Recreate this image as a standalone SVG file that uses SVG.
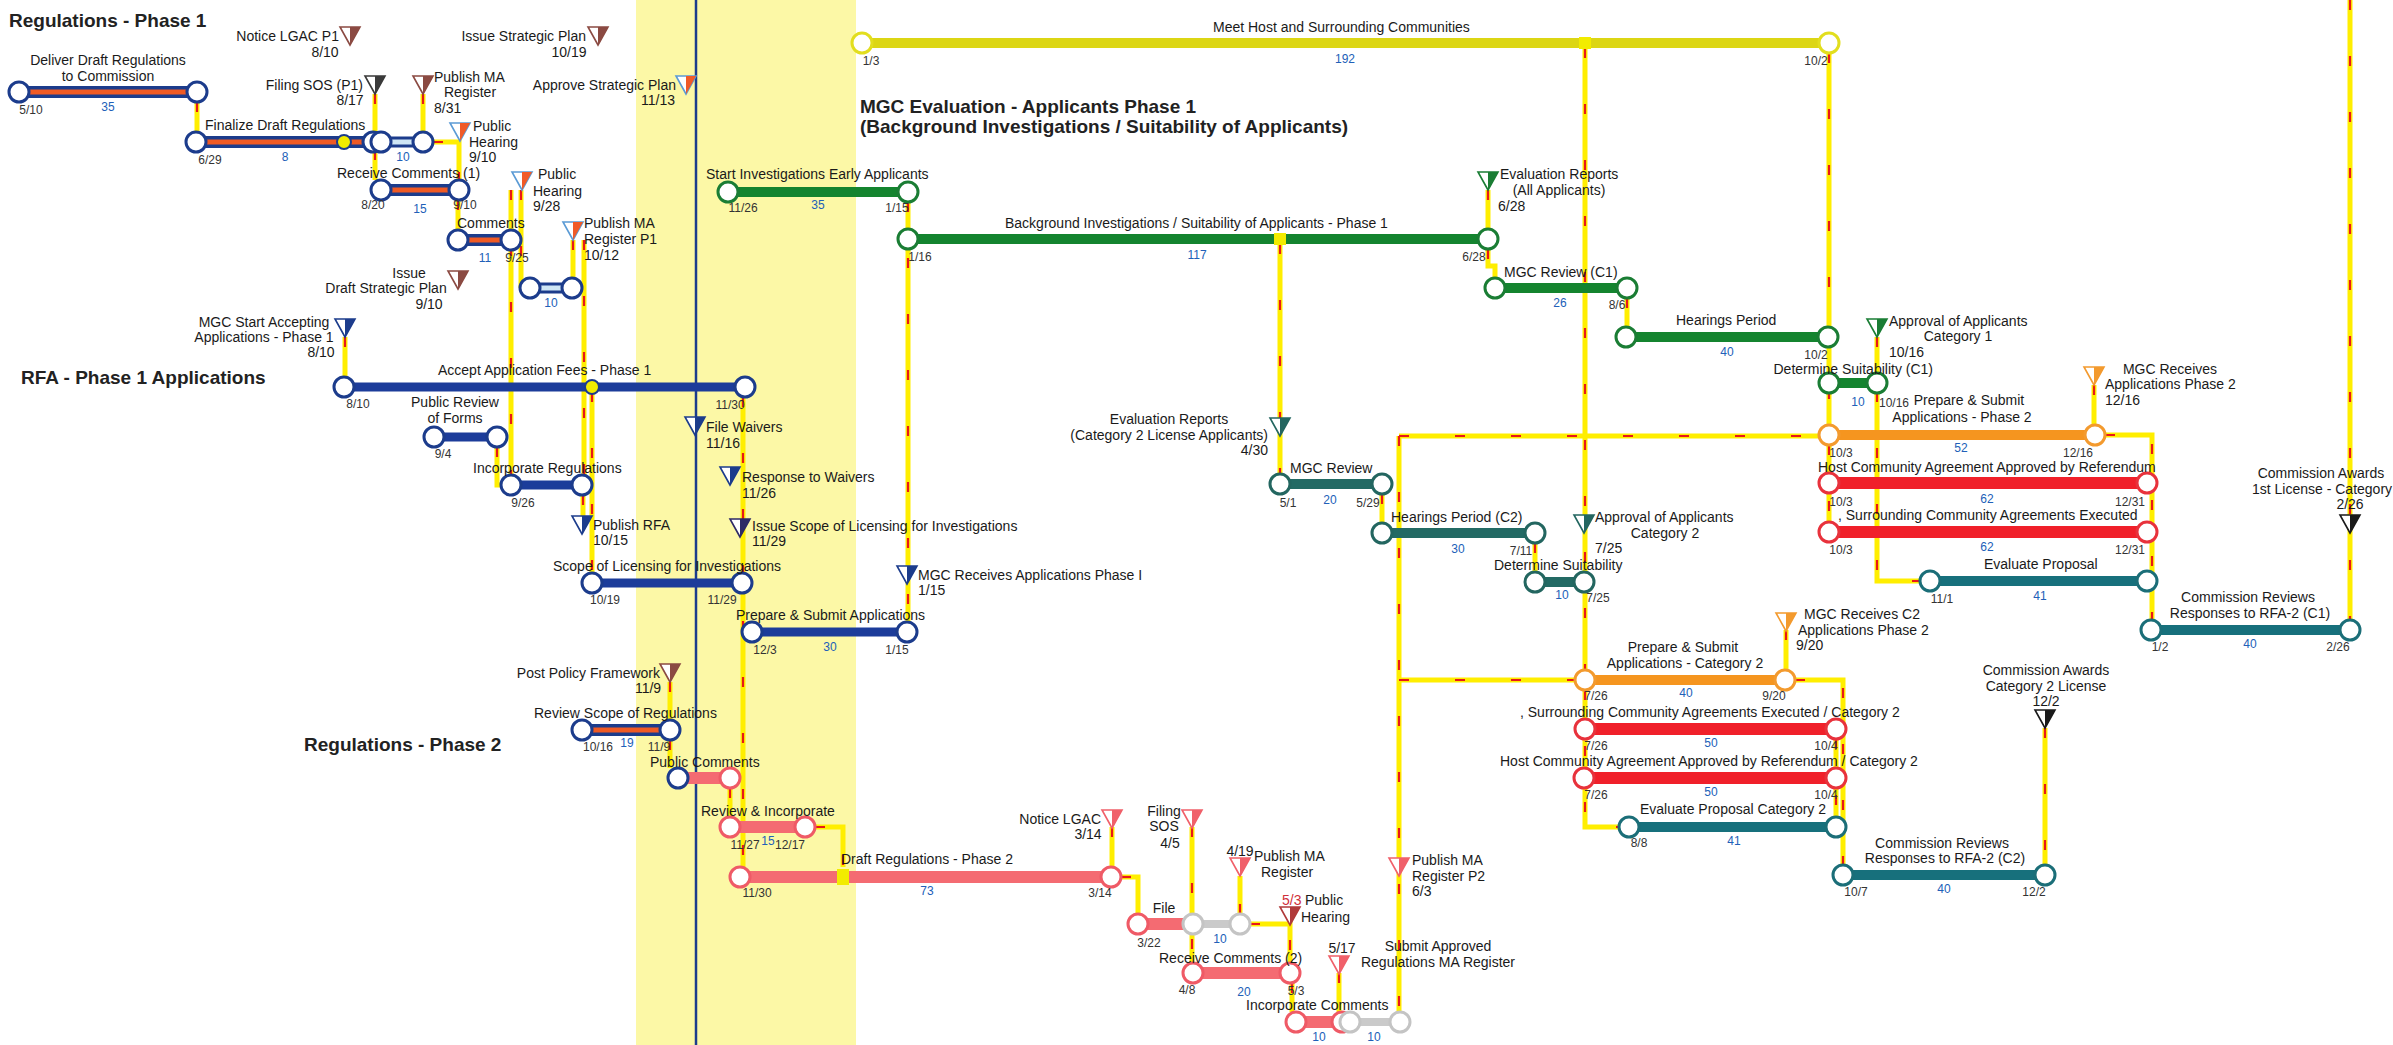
<svg xmlns="http://www.w3.org/2000/svg" width="2393" height="1045" viewBox="0 0 2393 1045">
<style>
text{font-family:"Liberation Sans",Arial,sans-serif;fill:#1a1a1a;font-size:14px}
.t{font-weight:bold;font-size:19px;fill:#222}
.d{font-size:12px;fill:#333}
.n{font-size:12px;fill:#2160b8}
.m{text-anchor:middle}
.e{text-anchor:end}
.red{fill:#d0303a}
circle.nd{fill:#fff;stroke-width:3}
.cN{stroke:#1c3c8c}.cG{stroke:#1a7d34}.cT{stroke:#1b6e78}.cT2{stroke:#236660}.cO{stroke:#f39a2e}.cR{stroke:#e8323c}.cP{stroke:#ef5a66}.cY{stroke:#e2de1e}.cGr{stroke:#c4c4c4}
line{fill:none;stroke-linecap:butt}
.b1{stroke:#1c3c8c;stroke-width:12}.b1i{stroke:#ef5a24;stroke-width:5}
.bL{stroke:#1c3c8c;stroke-width:11}.bLi{stroke:#cfe6f5;stroke-width:5}
.bN{stroke:#1c3c9a;stroke-width:9}
.bG{stroke:#14842f;stroke-width:10}
.bY{stroke:#dcd614;stroke-width:10}
.bO{stroke:#f5951f;stroke-width:10}
.bR{stroke:#f0202a;stroke-width:12}
.bT{stroke:#17707c;stroke-width:10}
.bT2{stroke:#236a64;stroke-width:10}
.bP{stroke:#f46b72;stroke-width:12}
.bGr{stroke:#cacaca;stroke-width:8}
.yd{fill:#f2ec00}
#connectors{fill:none;stroke:#ffee00;stroke-width:5}
#arrows{fill:none;stroke:#e81818;stroke-width:2.2;stroke-dasharray:10 46}
</style>
<defs>
<g id="ms"><polygon points="-10,-9 10,-9 0,9" fill="#fff" stroke="currentColor" stroke-width="1.6"/><polygon points="0,-9 10,-9 0,9" fill="currentColor"/></g>
<g id="msb"><polygon points="-10,-9 10,-9 0,9" fill="#fff" stroke="#5b9bd5" stroke-width="1.6"/><polygon points="0,-9 10,-9 0,9" fill="currentColor"/></g>
</defs>
<rect x="0" y="0" width="2393" height="1045" fill="#fff"/>
<rect x="636" y="0" width="220" height="1045" fill="#fcf8a6"/>
<line x1="696" y1="0" x2="696" y2="1045" stroke="#1c3c8c" stroke-width="2.5"/>

<g id="titles">
<text class="t" x="9" y="27">Regulations - Phase 1</text>
<text class="t" x="860" y="113">MGC Evaluation - Applicants Phase 1</text>
<text class="t" x="860" y="133">(Background Investigations / Suitability of Applicants)</text>
<text class="t" x="21" y="384">RFA - Phase 1 Applications</text>
<text class="t" x="304" y="751">Regulations - Phase 2</text>
</g>

<g id="connectors">
<path id="k1" d="M197 102V132"/><path id="k2" d="M375 94V180"/><path id="k3" d="M423 94V132"/>
<path id="k4" d="M433 142H459V180"/><path id="k5" d="M458 200V230"/><path id="k6" d="M511 190V475"/>
<path id="k7" d="M521 190V288H520"/><path id="k8" d="M573 240V278"/><path id="k9" d="M584 240V475"/>
<path id="k10" d="M583 495V516"/><path id="k11" d="M592 392V573"/><path id="k12" d="M345 337V377"/>
<path id="k13" d="M497 447V485H501"/><path id="k14" d="M743 397V867"/><path id="k15" d="M670 682V720"/>
<path id="k16" d="M670 740V768"/><path id="k17" d="M730 788V817"/><path id="k18" d="M815 827H843V867"/>
<path id="k19" d="M1121 877H1138V914"/><path id="k20" d="M1112 827V867"/><path id="k21" d="M1192 827V963"/>
<path id="k22" d="M1240 914V876"/><path id="k23" d="M1250 924H1290V963"/><path id="k24" d="M1292 983V1012"/>
<path id="k25" d="M1339 973V1012"/><path id="k26" d="M1399 436V1012"/><path id="k27" d="M908 202V622"/>
<path id="k28" d="M1585 48V670"/><path id="k29" d="M1829 53V522"/><path id="k30" d="M1280 244V474"/>
<path id="k31" d="M1488 190V229"/><path id="k32" d="M1488 249V266H1495V278"/><path id="k33" d="M1627 298V327"/>
<path id="k34" d="M1382 494V523"/><path id="k35" d="M1399 436H1819"/><path id="k36" d="M1535 543V572"/>
<path id="k37" d="M1399 680H1575"/><path id="k38" d="M1877 337V372"/><path id="k39" d="M1877 392V581H1920"/>
<path id="k40" d="M2105 435H2152V620"/><path id="k41" d="M2094 385V425"/><path id="k42" d="M2350 0V620"/>
<path id="k43" d="M1795 680H1843V865"/><path id="k44" d="M1786 630V670"/><path id="k45" d="M1585 690V827H1619"/>
<path id="k46" d="M1836 739V817"/><path id="k47" d="M2045 728V865"/>
</g>
<g id="arrows">
<use href="#k1"/><use href="#k2"/><use href="#k3"/><use href="#k4"/><use href="#k5"/><use href="#k6"/><use href="#k7"/><use href="#k8"/><use href="#k9"/><use href="#k10"/>
<use href="#k11"/><use href="#k12"/><use href="#k13"/><use href="#k14"/><use href="#k15"/><use href="#k16"/><use href="#k17"/><use href="#k18"/><use href="#k19"/><use href="#k20"/>
<use href="#k21"/><use href="#k22"/><use href="#k23"/><use href="#k24"/><use href="#k25"/><use href="#k26"/><use href="#k27"/><use href="#k28"/><use href="#k29"/><use href="#k30"/>
<use href="#k31"/><use href="#k32"/><use href="#k33"/><use href="#k34"/><use href="#k35"/><use href="#k36"/><use href="#k37"/><use href="#k38"/><use href="#k39"/><use href="#k40"/>
<use href="#k41"/><use href="#k42"/><use href="#k43"/><use href="#k44"/><use href="#k45"/><use href="#k46"/><use href="#k47"/>
</g>

<!-- Regulations Phase 1 -->
<g id="deliver-draft">
<line class="b1" x1="19" y1="92" x2="197" y2="92"/><line class="b1i" x1="19" y1="92" x2="197" y2="92"/>
<circle class="nd cN" cx="19" cy="92" r="10"/><circle class="nd cN" cx="197" cy="92" r="10"/>
<text class="m" x="108" y="65">Deliver Draft Regulations</text><text class="m" x="108" y="81">to Commission</text>
<text class="d m" x="31" y="114">5/10</text><text class="n m" x="108" y="111">35</text>
</g>
<g id="finalize-draft">
<line class="b1" x1="196" y1="142" x2="381" y2="142"/><line class="b1i" x1="196" y1="142" x2="381" y2="142"/>
<line class="bL" x1="381" y1="142" x2="423" y2="142"/><line class="bLi" x1="381" y1="142" x2="423" y2="142"/>
<circle cx="344" cy="142" r="7" class="yd" stroke="#1c3c8c" stroke-width="2"/>
<circle class="nd cN" cx="196" cy="142" r="10"/><circle class="nd cN" cx="373" cy="142" r="10"/><circle class="nd cN" cx="381" cy="142" r="10"/><circle class="nd cN" cx="423" cy="142" r="10"/>
<text x="205" y="130">Finalize Draft Regulations</text>
<text class="d m" x="210" y="164">6/29</text><text class="n m" x="285" y="161">8</text><text class="n m" x="403" y="161">10</text>
</g>
<g id="receive-comments-1">
<line class="b1" x1="381" y1="190" x2="459" y2="190"/><line class="b1i" x1="381" y1="190" x2="459" y2="190"/>
<circle class="nd cN" cx="381" cy="190" r="10"/><circle class="nd cN" cx="459" cy="190" r="10"/>
<text x="337" y="178">Receive Comments (1)</text>
<text class="d m" x="373" y="209">8/20</text><text class="n m" x="420" y="213">15</text><text class="d m" x="465" y="209">9/10</text>
</g>
<g id="comments">
<line class="b1" x1="458" y1="240" x2="511" y2="240"/><line class="b1i" x1="458" y1="240" x2="511" y2="240"/>
<circle class="nd cN" cx="458" cy="240" r="10"/><circle class="nd cN" cx="511" cy="240" r="10"/>
<text x="457" y="228">Comments</text>
<text class="n m" x="485" y="262">11</text><text class="d m" x="517" y="262">9/25</text>
</g>
<g id="task-10">
<line class="bL" x1="530" y1="288" x2="572" y2="288"/><line class="bLi" x1="530" y1="288" x2="572" y2="288"/>
<circle class="nd cN" cx="530" cy="288" r="10"/><circle class="nd cN" cx="572" cy="288" r="10"/>
<text class="n m" x="551" y="307">10</text>
</g>
<g id="ms-notice-lgac-p1"><use href="#ms" x="350" y="36" color="#8b4a42"/><text class="e" x="339" y="41">Notice LGAC P1</text><text class="m" x="325" y="57">8/10</text></g>
<g id="ms-filing-sos-p1"><use href="#ms" x="375" y="85" color="#3a3a3a"/><text class="e" x="363" y="90">Filing SOS (P1)</text><text class="m" x="350" y="105">8/17</text></g>
<g id="ms-publish-ma"><use href="#ms" x="423" y="85" color="#8b4a42"/><text x="434" y="82">Publish MA</text><text class="m" x="470" y="97">Register</text><text x="434" y="113">8/31</text></g>
<g id="ms-public-hearing-1"><use href="#msb" x="460" y="132" color="#f05a28"/><text x="473" y="131">Public</text><text x="469" y="147">Hearing</text><text x="469" y="162">9/10</text></g>
<g id="ms-issue-strategic"><use href="#ms" x="598" y="36" color="#8b4a42"/><text class="e" x="586" y="41">Issue Strategic Plan</text><text class="m" x="569" y="57">10/19</text></g>
<g id="ms-approve-strategic"><use href="#msb" x="686" y="85" color="#f05a28"/><text class="e" x="676" y="90">Approve Strategic Plan</text><text class="m" x="658" y="105">11/13</text></g>
<g id="ms-public-hearing-2"><use href="#msb" x="522" y="181" color="#f05a28"/><text x="538" y="179">Public</text><text x="533" y="196">Hearing</text><text x="533" y="211">9/28</text></g>
<g id="ms-publish-ma-p1"><use href="#msb" x="573" y="231" color="#f05a28"/><text x="584" y="228">Publish MA</text><text x="584" y="244">Register P1</text><text x="584" y="260">10/12</text></g>
<g id="ms-draft-strategic"><use href="#ms" x="458" y="280" color="#8b4a42"/><text class="m" x="409" y="278">Issue</text><text class="m" x="386" y="293">Draft Strategic Plan</text><text class="m" x="429" y="309">9/10</text></g>
<g id="ms-mgc-start"><use href="#ms" x="345" y="328" color="#1c3c8c"/><text class="m" x="264" y="327">MGC Start Accepting</text><text class="m" x="264" y="342">Applications - Phase 1</text><text class="m" x="321" y="357">8/10</text></g>

<!-- RFA -->
<g id="accept-fees">
<line class="bN" x1="344" y1="387" x2="745" y2="387"/>
<circle cx="592" cy="387" r="7" class="yd" stroke="#1c3c8c" stroke-width="2"/>
<circle class="nd cN" cx="344" cy="387" r="10"/><circle class="nd cN" cx="745" cy="387" r="10"/>
<text x="438" y="375">Accept Application Fees - Phase 1</text>
<text class="d m" x="358" y="408">8/10</text><text class="d m" x="730" y="409">11/30</text>
</g>
<g id="public-review">
<line class="bN" x1="434" y1="437" x2="497" y2="437"/>
<circle class="nd cN" cx="434" cy="437" r="10"/><circle class="nd cN" cx="497" cy="437" r="10"/>
<text class="m" x="455" y="407">Public Review</text><text class="m" x="455" y="423">of Forms</text>
<text class="d m" x="443" y="458">9/4</text>
</g>
<g id="incorporate-regs">
<line class="bN" x1="511" y1="485" x2="582" y2="485"/>
<circle class="nd cN" cx="511" cy="485" r="10"/><circle class="nd cN" cx="582" cy="485" r="10"/>
<text x="473" y="473">Incorporate Regulations</text><text class="d m" x="523" y="507">9/26</text>
</g>
<g id="scope-licensing">
<line class="bN" x1="592" y1="583" x2="742" y2="583"/>
<circle class="nd cN" cx="592" cy="583" r="10"/><circle class="nd cN" cx="742" cy="583" r="10"/>
<text x="553" y="571">Scope of Licensing for Investigations</text>
<text class="d m" x="605" y="604">10/19</text><text class="d m" x="722" y="604">11/29</text>
</g>
<g id="prepare-submit">
<line class="bN" x1="752" y1="632" x2="907" y2="632"/>
<circle class="nd cN" cx="752" cy="632" r="10"/><circle class="nd cN" cx="907" cy="632" r="10"/>
<text x="736" y="620">Prepare &amp; Submit Applications</text>
<text class="d m" x="765" y="654">12/3</text><text class="n m" x="830" y="651">30</text><text class="d m" x="897" y="654">1/15</text>
</g>
<g id="ms-publish-rfa"><use href="#ms" x="582" y="525" color="#1c3c8c"/><text x="593" y="530">Publish RFA</text><text x="593" y="545">10/15</text></g>
<g id="ms-file-waivers"><use href="#ms" x="695" y="426" color="#1c3c8c"/><text x="706" y="432">File Waivers</text><text x="706" y="448">11/16</text></g>
<g id="ms-response-waivers"><use href="#ms" x="730" y="476" color="#1c3c8c"/><text x="742" y="482">Response to Waivers</text><text x="742" y="498">11/26</text></g>
<g id="ms-issue-scope"><use href="#ms" x="740" y="528" color="#2e2a66"/><text x="752" y="531">Issue Scope of Licensing for Investigations</text><text x="752" y="546">11/29</text></g>
<g id="ms-mgc-receives-1"><use href="#ms" x="907" y="575" color="#1c3c8c"/><text x="918" y="580">MGC Receives Applications Phase I</text><text x="918" y="595">1/15</text></g>
<g id="ms-post-policy"><use href="#ms" x="670" y="673" color="#8b4a42"/><text class="e" x="660" y="678">Post Policy Framework</text><text class="m" x="648" y="693">11/9</text></g>

<!-- MGC Evaluation -->
<g id="meet-host">
<line class="bY" x1="862" y1="43" x2="1829" y2="43"/>
<rect x="1579" y="37" width="12" height="12" class="yd"/>
<circle class="nd cY" cx="862" cy="43" r="10"/><circle class="nd cY" cx="1829" cy="43" r="10"/>
<text x="1213" y="32">Meet Host and Surrounding Communities</text>
<text class="d m" x="871" y="65">1/3</text><text class="n m" x="1345" y="63">192</text><text class="d m" x="1816" y="65">10/2</text>
</g>
<g id="start-investigations">
<line class="bG" x1="728" y1="192" x2="908" y2="192"/>
<circle class="nd cG" cx="728" cy="192" r="10"/><circle class="nd cG" cx="908" cy="192" r="10"/>
<text x="706" y="179">Start Investigations Early Applicants</text>
<text class="d m" x="743" y="212">11/26</text><text class="n m" x="818" y="209">35</text><text class="d m" x="897" y="212">1/15</text>
</g>
<g id="background-investigations">
<line class="bG" x1="908" y1="239" x2="1488" y2="239"/>
<rect x="1274" y="233" width="12" height="12" class="yd"/>
<circle class="nd cG" cx="908" cy="239" r="10"/><circle class="nd cG" cx="1488" cy="239" r="10"/>
<text x="1005" y="228">Background Investigations / Suitability of Applicants - Phase 1</text>
<text class="d m" x="920" y="261">1/16</text><text class="n m" x="1197" y="259">117</text><text class="d m" x="1474" y="261">6/28</text>
</g>
<g id="ms-eval-reports-all"><use href="#ms" x="1488" y="181" color="#1a7d34"/><text x="1500" y="179">Evaluation Reports</text><text class="m" x="1559" y="195">(All Applicants)</text><text x="1498" y="211">6/28</text></g>
<g id="mgc-review-c1">
<line class="bG" x1="1495" y1="288" x2="1627" y2="288"/>
<circle class="nd cG" cx="1495" cy="288" r="10"/><circle class="nd cG" cx="1627" cy="288" r="10"/>
<text x="1504" y="277">MGC Review (C1)</text>
<text class="n m" x="1560" y="307">26</text><text class="d m" x="1617" y="309">8/6</text>
</g>
<g id="hearings-period">
<line class="bG" x1="1626" y1="337" x2="1828" y2="337"/>
<circle class="nd cG" cx="1626" cy="337" r="10"/><circle class="nd cG" cx="1828" cy="337" r="10"/>
<text x="1676" y="325">Hearings Period</text>
<text class="n m" x="1727" y="356">40</text><text class="d m" x="1816" y="359">10/2</text>
</g>
<g id="ms-approval-c1"><use href="#ms" x="1877" y="328" color="#1a7d34"/><text x="1889" y="326">Approval of Applicants</text><text class="m" x="1958" y="341">Category 1</text><text x="1889" y="357">10/16</text></g>
<g id="determine-suitability-c1">
<line class="bG" x1="1829" y1="383" x2="1877" y2="383"/>
<circle class="nd cG" cx="1829" cy="383" r="10"/><circle class="nd cG" cx="1877" cy="383" r="10"/>
<text class="e" x="1933" y="374">Determine Suitability (C1)</text>
<text class="n m" x="1858" y="406">10</text><text class="d" x="1879" y="407">10/16</text>
</g>
<g id="prepare-submit-p2">
<line class="bO" x1="1829" y1="435" x2="2095" y2="435"/>
<circle class="nd cO" cx="1829" cy="435" r="10"/><circle class="nd cO" cx="2095" cy="435" r="10"/>
<text class="m" x="1969" y="405">Prepare &amp; Submit</text><text class="m" x="1962" y="422">Applications - Phase 2</text>
<text class="d m" x="1841" y="457">10/3</text><text class="n m" x="1961" y="452">52</text><text class="d m" x="2078" y="457">12/16</text>
</g>
<g id="ms-mgc-receives-p2"><use href="#ms" x="2094" y="376" color="#f39a2e"/><text class="m" x="2170" y="374">MGC Receives</text><text x="2105" y="389">Applications Phase 2</text><text x="2105" y="405">12/16</text></g>
<g id="host-community-c1">
<line class="bR" x1="1829" y1="483" x2="2147" y2="483"/>
<circle class="nd cR" cx="1829" cy="483" r="10"/><circle class="nd cR" cx="2147" cy="483" r="10"/>
<text x="1818" y="472">Host Community Agreement Approved by Referendum</text>
<text class="d m" x="1841" y="506">10/3</text><text class="n m" x="1987" y="503">62</text><text class="d m" x="2130" y="506">12/31</text>
</g>
<g id="surrounding-community-c1">
<line class="bR" x1="1829" y1="532" x2="2147" y2="532"/>
<circle class="nd cR" cx="1829" cy="532" r="10"/><circle class="nd cR" cx="2147" cy="532" r="10"/>
<text x="1838" y="520">, Surrounding Community Agreements Executed</text>
<text class="d m" x="1841" y="554">10/3</text><text class="n m" x="1987" y="551">62</text><text class="d m" x="2130" y="554">12/31</text>
</g>
<g id="evaluate-proposal">
<line class="bT" x1="1930" y1="581" x2="2147" y2="581"/>
<circle class="nd cT" cx="1930" cy="581" r="10"/><circle class="nd cT" cx="2147" cy="581" r="10"/>
<text x="1984" y="569">Evaluate Proposal</text>
<text class="d m" x="1942" y="603">11/1</text><text class="n m" x="2040" y="600">41</text>
</g>
<g id="commission-reviews-c1">
<line class="bT" x1="2151" y1="630" x2="2350" y2="630"/>
<circle class="nd cT" cx="2151" cy="630" r="10"/><circle class="nd cT" cx="2350" cy="630" r="10"/>
<text class="m" x="2248" y="602">Commission Reviews</text><text class="m" x="2250" y="618">Responses to RFA-2 (C1)</text>
<text class="d m" x="2160" y="651">1/2</text><text class="n m" x="2250" y="648">40</text><text class="d m" x="2338" y="651">2/26</text>
</g>
<g id="ms-awards-c1"><use href="#ms" x="2350" y="524" color="#1a1a1a"/><text class="m" x="2321" y="478">Commission Awards</text><text x="2252" y="494">1st License - Category</text><text class="m" x="2350" y="509">2/26</text></g>

<!-- Category 2 -->
<g id="ms-eval-reports-c2"><use href="#ms" x="1280" y="427" color="#236660"/><text class="m" x="1169" y="424">Evaluation Reports</text><text class="e" x="1268" y="440">(Category 2 License Applicants)</text><text class="e" x="1268" y="455">4/30</text></g>
<g id="mgc-review-c2">
<line class="bT2" x1="1280" y1="484" x2="1382" y2="484"/>
<circle class="nd cT2" cx="1280" cy="484" r="10"/><circle class="nd cT2" cx="1382" cy="484" r="10"/>
<text x="1290" y="473">MGC Review</text>
<text class="d m" x="1288" y="507">5/1</text><text class="n m" x="1330" y="504">20</text><text class="d m" x="1368" y="507">5/29</text>
</g>
<g id="hearings-period-c2">
<line class="bT2" x1="1382" y1="533" x2="1535" y2="533"/>
<circle class="nd cT2" cx="1382" cy="533" r="10"/><circle class="nd cT2" cx="1535" cy="533" r="10"/>
<text x="1391" y="522">Hearings Period (C2)</text>
<text class="n m" x="1458" y="553">30</text><text class="d m" x="1521" y="555">7/11</text>
</g>
<g id="ms-approval-c2"><use href="#ms" x="1584" y="524" color="#236660"/><text x="1595" y="522">Approval of Applicants</text><text class="m" x="1665" y="538">Category 2</text><text x="1595" y="553">7/25</text></g>
<g id="determine-suitability-c2">
<line class="bT2" x1="1535" y1="582" x2="1584" y2="582"/>
<circle class="nd cT2" cx="1535" cy="582" r="10"/><circle class="nd cT2" cx="1584" cy="582" r="10"/>
<text x="1494" y="570">Determine Suitability</text>
<text class="n m" x="1562" y="599">10</text><text class="d m" x="1598" y="602">7/25</text>
</g>
<g id="prepare-submit-c2">
<line class="bO" x1="1585" y1="680" x2="1785" y2="680"/>
<circle class="nd cO" cx="1585" cy="680" r="10"/><circle class="nd cO" cx="1785" cy="680" r="10"/>
<text class="m" x="1683" y="652">Prepare &amp; Submit</text><text class="m" x="1685" y="668">Applications - Category 2</text>
<text class="d m" x="1596" y="700">7/26</text><text class="n m" x="1686" y="697">40</text><text class="d m" x="1774" y="700">9/20</text>
</g>
<g id="ms-mgc-receives-c2"><use href="#ms" x="1786" y="622" color="#f39a2e"/><text x="1804" y="619">MGC Receives C2</text><text x="1798" y="635">Applications Phase 2</text><text x="1796" y="650">9/20</text></g>
<g id="surrounding-community-c2">
<line class="bR" x1="1585" y1="729" x2="1836" y2="729"/>
<circle class="nd cR" cx="1585" cy="729" r="10"/><circle class="nd cR" cx="1836" cy="729" r="10"/>
<text x="1520" y="717">, Surrounding Community Agreements Executed / Category 2</text>
<text class="d m" x="1596" y="750">7/26</text><text class="n m" x="1711" y="747">50</text><text class="d m" x="1826" y="750">10/4</text>
</g>
<g id="host-community-c2">
<line class="bR" x1="1584" y1="778" x2="1836" y2="778"/>
<circle class="nd cR" cx="1584" cy="778" r="10"/><circle class="nd cR" cx="1836" cy="778" r="10"/>
<text x="1500" y="766">Host Community Agreement Approved by Referendum / Category 2</text>
<text class="d m" x="1596" y="799">7/26</text><text class="n m" x="1711" y="796">50</text><text class="d m" x="1826" y="799">10/4</text>
</g>
<g id="evaluate-proposal-c2">
<line class="bT" x1="1629" y1="827" x2="1836" y2="827"/>
<circle class="nd cT" cx="1629" cy="827" r="10"/><circle class="nd cT" cx="1836" cy="827" r="10"/>
<text x="1640" y="814">Evaluate Proposal Category 2</text>
<text class="d m" x="1639" y="847">8/8</text><text class="n m" x="1734" y="845">41</text>
</g>
<g id="commission-reviews-c2">
<line class="bT" x1="1843" y1="875" x2="2045" y2="875"/>
<circle class="nd cT" cx="1843" cy="875" r="10"/><circle class="nd cT" cx="2045" cy="875" r="10"/>
<text class="m" x="1942" y="848">Commission Reviews</text><text class="m" x="1945" y="863">Responses to RFA-2 (C2)</text>
<text class="d m" x="1856" y="896">10/7</text><text class="n m" x="1944" y="893">40</text><text class="d m" x="2034" y="896">12/2</text>
</g>
<g id="ms-awards-c2"><use href="#ms" x="2045" y="719" color="#1a1a1a"/><text class="m" x="2046" y="675">Commission Awards</text><text class="m" x="2046" y="691">Category 2 License</text><text class="m" x="2046" y="706">12/2</text></g>

<!-- Regulations Phase 2 -->
<g id="review-scope-regs">
<line class="b1" x1="582" y1="730" x2="670" y2="730"/><line class="b1i" x1="582" y1="730" x2="670" y2="730"/>
<circle class="nd cN" cx="582" cy="730" r="10"/><circle class="nd cN" cx="670" cy="730" r="10"/>
<text x="534" y="718">Review Scope of Regulations</text>
<text class="d m" x="598" y="751">10/16</text><text class="n m" x="627" y="747">19</text><text class="d m" x="659" y="751">11/9</text>
</g>
<g id="public-comments">
<line class="bP" x1="678" y1="778" x2="730" y2="778"/>
<circle class="nd cN" cx="678" cy="778" r="10"/><circle class="nd cP" cx="730" cy="778" r="10"/>
<text x="650" y="767">Public Comments</text>
</g>
<g id="review-incorporate">
<line class="bP" x1="730" y1="827" x2="805" y2="827"/>
<circle class="nd cP" cx="730" cy="827" r="10"/><circle class="nd cP" cx="805" cy="827" r="10"/>
<text x="701" y="816">Review &amp; Incorporate</text>
<text class="d m" x="745" y="849">11/27</text><text class="n m" x="768" y="845">15</text><text class="d m" x="790" y="849">12/17</text>
</g>
<g id="draft-regs-p2">
<line class="bP" x1="740" y1="877" x2="1111" y2="877"/>
<rect x="837" y="869" width="12" height="16" class="yd"/>
<circle class="nd cP" cx="740" cy="877" r="10"/><circle class="nd cP" cx="1111" cy="877" r="10"/>
<text x="841" y="864">Draft Regulations - Phase 2</text>
<text class="d m" x="757" y="897">11/30</text><text class="n m" x="927" y="895">73</text><text class="d m" x="1100" y="897">3/14</text>
</g>
<g id="ms-notice-lgac-p2"><use href="#ms" x="1112" y="819" color="#f0606a"/><text class="e" x="1101" y="824">Notice LGAC</text><text class="m" x="1088" y="839">3/14</text></g>
<g id="ms-filing-sos-p2"><use href="#ms" x="1192" y="819" color="#f0606a"/><text class="m" x="1164" y="816">Filing</text><text class="m" x="1164" y="831">SOS</text><text class="m" x="1170" y="848">4/5</text></g>
<g id="file">
<line class="bP" x1="1138" y1="924" x2="1193" y2="924"/><line class="bGr" x1="1200" y1="924" x2="1240" y2="924"/>
<circle class="nd cP" cx="1138" cy="924" r="10"/><circle class="nd cGr" cx="1193" cy="924" r="10"/><circle class="nd cGr" cx="1240" cy="924" r="10"/>
<text class="m" x="1164" y="913">File</text>
<text class="d m" x="1149" y="947">3/22</text><text class="n m" x="1220" y="943">10</text>
</g>
<g id="ms-publish-ma-p2a"><use href="#ms" x="1240" y="867" color="#f0606a"/><text class="m" x="1240" y="856">4/19</text><text x="1254" y="861">Publish MA</text><text x="1261" y="877">Register</text></g>
<g id="ms-public-hearing-p2"><use href="#ms" x="1290" y="916" color="#b03a3a"/><text class="red" x="1282" y="905">5/3</text><text x="1305" y="905">Public</text><text x="1301" y="922">Hearing</text></g>
<g id="receive-comments-2">
<line class="bP" x1="1193" y1="973" x2="1290" y2="973"/>
<circle class="nd cP" cx="1193" cy="973" r="10"/><circle class="nd cP" cx="1290" cy="973" r="10"/>
<text x="1159" y="963">Receive Comments (2)</text>
<text class="d m" x="1187" y="994">4/8</text><text class="n m" x="1244" y="996">20</text><text class="d m" x="1296" y="995">5/3</text>
</g>
<g id="ms-5-17"><use href="#ms" x="1339" y="965" color="#f0606a"/><text class="m" x="1342" y="953">5/17</text></g>
<g id="incorporate-comments">
<line class="bP" x1="1296" y1="1022" x2="1342" y2="1022"/><line class="bGr" x1="1350" y1="1022" x2="1400" y2="1022"/>
<circle class="nd cP" cx="1296" cy="1022" r="10"/><circle class="nd cP" cx="1342" cy="1022" r="10"/><circle class="nd cGr" cx="1350" cy="1022" r="10"/><circle class="nd cGr" cx="1400" cy="1022" r="10"/>
<text x="1246" y="1010">Incorporate Comments</text>
<text class="n m" x="1319" y="1041">10</text><text class="n m" x="1374" y="1041">10</text>
</g>
<g id="ms-publish-ma-p2"><use href="#ms" x="1399" y="867" color="#f0606a"/><text x="1412" y="865">Publish MA</text><text x="1412" y="881">Register P2</text><text x="1412" y="896">6/3</text></g>
<g id="ms-submit-approved"><text class="m" x="1438" y="951">Submit Approved</text><text class="m" x="1438" y="967">Regulations MA Register</text></g>
</svg>
